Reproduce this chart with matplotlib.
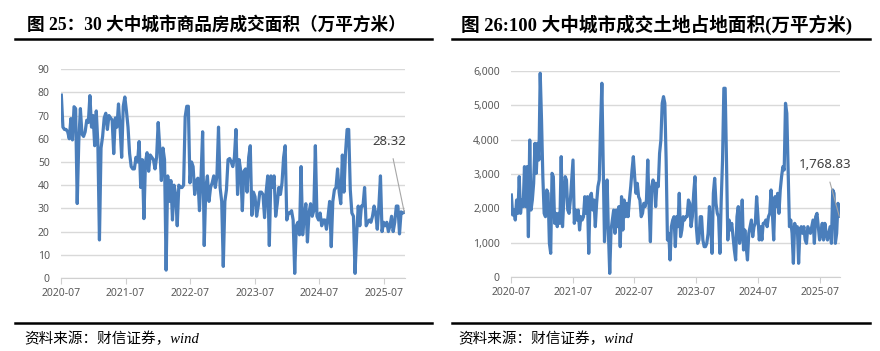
import matplotlib
matplotlib.use("Agg")
import matplotlib.pyplot as plt
import matplotlib.dates as mdates
from matplotlib.ticker import FuncFormatter, MultipleLocator
import pandas as pd

# 图25: 30 大中城市商品房成交面积（万平方米）, weekly, 2020-07 .. 2025-10
house_area = [
    78.8, 65, 64, 64, 63, 60, 68.7, 59.5, 73.8, 73, 32.1, 59, 73, 62, 61, 63,
    68, 67, 78.6, 65, 70, 57, 72, 58, 16.4, 56, 61, 69, 71, 64, 70, 69, 68,
    53.6, 69, 65, 75, 65, 52, 74, 78, 72, 65, 53.6, 48, 47, 47, 52, 50, 58.8,
    39, 51, 25.6, 50, 54, 46, 53, 52, 51, 47, 52, 67, 56, 42, 56, 51, 3.4,
    44, 33,
    42, 25, 40, 36, 22.5, 40, 39, 39, 40, 69.5, 74, 74, 41, 50, 48, 36, 42,
    43, 29, 44, 63, 14, 39, 44, 33, 39, 41, 44, 39, 44, 65, 39, 33, 5, 33, 38,
    51, 51.5, 50, 48, 52, 64, 36, 51, 46, 29, 46, 47, 37, 52, 57, 27, 37, 35,
    26.6, 31, 37, 37, 36, 26, 37, 44, 14, 44, 39, 44, 26.6, 32, 39, 36, 41, 52,
    57, 25, 28, 28, 29, 25, 2, 22.5, 24, 18.6, 48, 18.6, 26.6, 32, 15.5, 28,
    32, 26.6, 29, 57, 26.6, 25, 28, 22.5, 25, 25, 21, 26.6, 33, 13.5, 33, 38,
    39, 47, 37, 32, 53, 37, 54, 64, 64, 38, 28, 26.6, 2, 18.6, 31, 22.5, 31,
    31, 39, 22.5, 24, 25, 24, 26.6, 31, 28, 21, 31, 44, 20, 24, 22.5, 24, 20,
    22.5, 26.6, 20, 24, 31, 31, 19, 28.5, 28, 28.32,
]

# 图26: 100 大中城市成交土地占地面积（万平方米）
land_area = [
    2389, 1806, 1951, 1660, 2243, 1854, 2923, 1854, 2243, 2050, 3214, 2050,
    3214, 1175, 3990, 1951, 2243, 2729, 3894, 3020, 3894, 3408, 5934, 4574,
    2923, 1854, 1757, 2535, 2438, 981, 690, 3020, 2923, 1563, 1854, 1466,
    1854, 1563, 3505, 1466, 2243, 2923, 2826, 1951, 1854, 2243, 2826, 3408,
    1563, 1951, 1660, 1951, 1369, 1757, 1660, 1757, 2340, 1854, 2340, 690,
    2340, 2438, 1951, 2243, 1466, 2146, 2632, 2826, 4380, 5643, 3311, 1029,
    1854, 2826, 1272, 107, 1369, 1660, 1951, 1272, 1951, 1466, 2050, 884,
    2340, 1369, 2243, 1757, 2146, 1757, 2243, 2632, 3117, 3505, 2923, 2438,
    2729, 2340, 2243, 1757, 1854, 2146, 2050, 2243, 3408, 2050, 1029, 2632,
    2826, 2729, 2050, 2729, 2632, 3603, 3990, 5060, 5254, 5060, 3408, 1078,
    1272, 496, 1466, 1660, 1757, 884,
    1757, 1466, 2438, 1175, 1369, 1757, 1660, 1757, 1757, 2243, 2146, 1466,
    1757, 2438, 2923, 1466, 981, 1078, 1757, 1757, 1078, 884, 884, 981, 1272,
    2050, 1466, 690, 2438, 2875, 2146, 1854, 1757, 690, 2243, 3408, 5497,
    5497, 3408, 1078, 1660, 1369, 1563, 1175, 787, 496, 1757, 2050, 981,
    1272, 2243, 787, 1369, 884, 496, 1272, 1466, 1660, 1175, 1466, 1563,
    2340, 1757, 1078, 1466, 1078, 1563, 1563, 1660, 1466, 1757, 1854, 2535,
    1854, 1078, 2340, 2050, 2438, 1854, 2535, 2923, 3214, 3117, 5060, 4768,
    3117, 1466, 1660, 1272, 399, 1563, 1369, 1466, 399, 1369, 1466, 1272,
    1466, 1078, 981, 1466, 1369, 1272, 1466, 1660, 981, 1757, 1854, 1466,
    1078, 1272, 1563, 1078, 1563, 1272, 1078, 1272, 1466, 981, 2535, 2438,
    981, 1272, 2146, 1768.83,
]

titles = ["图 25：30 大中城市商品房成交面积（万平方米）",
          "图 26:100 大中城市成交土地占地面积(万平方米)"]
source = "资料来源：财信证券，wind"

start, end = "2020-07-03", "2025-10-24"
blue = "#4a7ebb"
tick_col = "#595959"

fig = plt.figure(figsize=(8.8, 3.51), dpi=100)
tick_font = ["Noto Sans", "DejaVu Sans"]
title_font = ["Liberation Serif", "Noto Sans CJK SC"]


def draw_panel(rect, values, ymax, ystep, fmt, label, label_xy):
    ax = fig.add_axes(rect)
    dates = pd.date_range(start, end, periods=len(values))
    ax.plot(dates, values, color=blue, lw=2.3, solid_joinstyle="round")
    ax.set_xlim(pd.Timestamp("2020-07-01"), pd.Timestamp("2025-10-28"))
    ax.set_ylim(0, ymax)
    ax.yaxis.set_major_locator(MultipleLocator(ystep))
    ax.yaxis.set_major_formatter(FuncFormatter(fmt))
    ax.xaxis.set_major_locator(mdates.MonthLocator(bymonth=7))
    ax.xaxis.set_major_formatter(mdates.DateFormatter("%Y-%m"))
    ax.grid(axis="y", color="#d9d9d9", lw=1)
    ax.set_axisbelow(True)
    for s in ["top", "right", "left"]:
        ax.spines[s].set_visible(False)
    ax.spines["bottom"].set_color("#d0d0d0")
    ax.tick_params(axis="y", length=0, pad=8, labelcolor=tick_col)
    ax.tick_params(axis="x", length=4, color="#d0d0d0", labelcolor=tick_col, pad=3)
    for t in ax.get_xticklabels() + ax.get_yticklabels():
        t.set_fontfamily(tick_font)
        t.set_fontsize(7.5)
    ax.annotate(label, xy=(dates[-1], values[-1]), xytext=label_xy,
                textcoords="axes fraction", ha="center", va="center",
                fontsize=9.5, color="#404040", family=tick_font,
                arrowprops=dict(arrowstyle="-", color="#a6a6a6", lw=0.8,
                                shrinkA=6, shrinkB=0))
    return ax


draw_panel([0.0693, 0.208, 0.3909, 0.595], house_area, 90, 10,
           lambda v, p: f"{v:.0f}", "28.32", (0.955, 0.655))
draw_panel([0.5807, 0.2108, 0.3738, 0.5869], land_area, 6000, 1000,
           lambda v, p: f"{v:,.0f}", "1,768.83", (0.955, 0.545))

# titles, rules and source lines
for x0, x1, tx, title, size in [(0.017, 0.491, 0.031, titles[0], 12.7),
                                (0.514, 0.989, 0.524, titles[1], 13.4)]:
    fig.text(tx, 0.930, title, fontsize=size, fontweight="bold",
             family=title_font, va="center")
    fig.add_artist(plt.Line2D([x0, x1], [0.890, 0.890], color="black", lw=1.8))
    fig.add_artist(plt.Line2D([x0, x1], [0.080, 0.080], color="black", lw=1.8))
    fig.text(tx - 0.003, 0.036, source, fontsize=10.5, style="italic",
             family=title_font, va="center")

fig.savefig("out.png", dpi=100)
